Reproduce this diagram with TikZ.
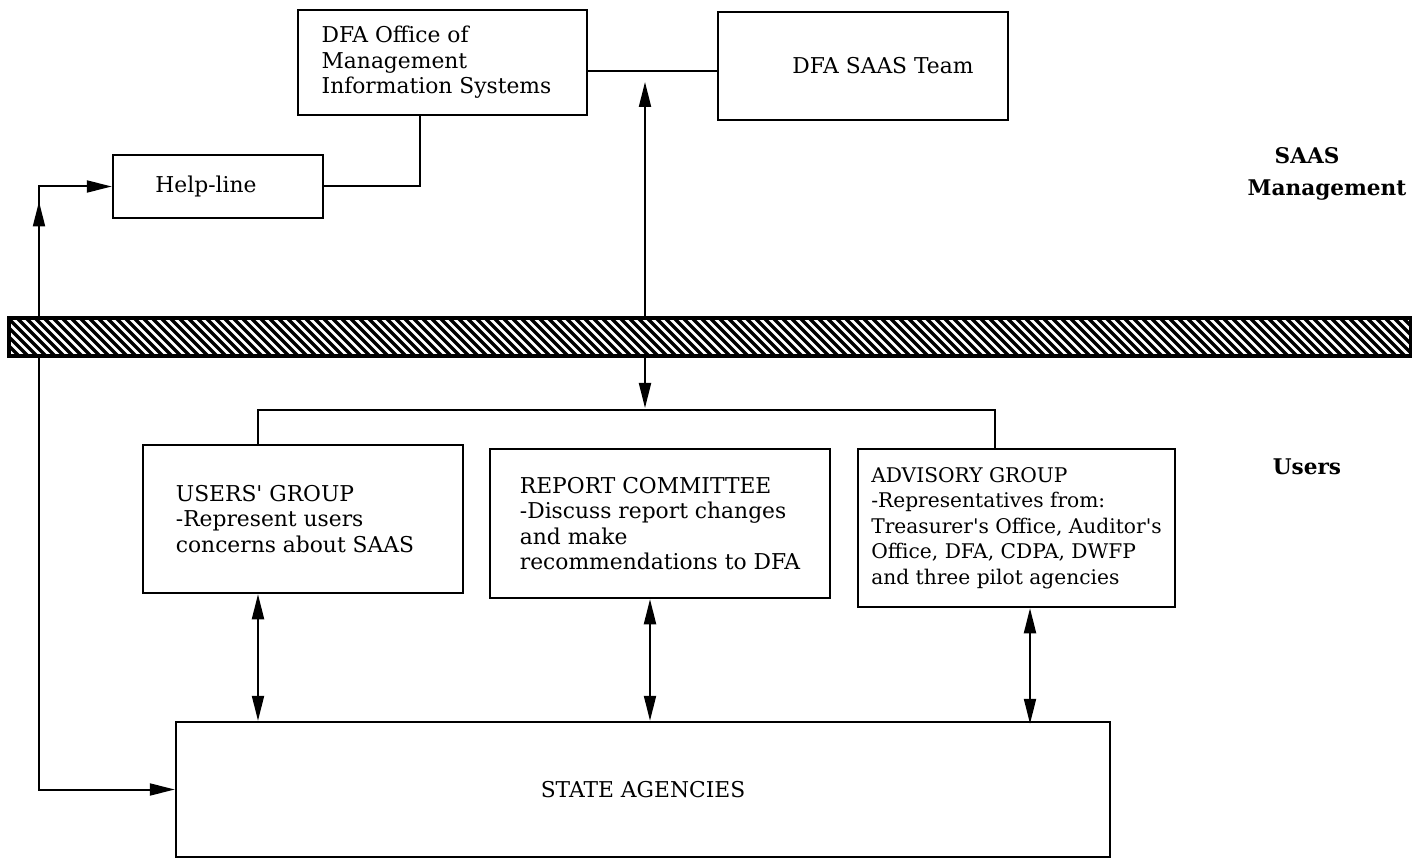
\documentclass[tikz,border=0pt]{standalone}
\usepackage{fontspec}
\setmainfont{DejaVu Serif}
\usetikzlibrary{arrows.meta,calc}
\begin{document}
\begin{tikzpicture}[x=0.5pt,y=-0.5pt,
  box/.style={draw,line width=1.25pt,rectangle,inner sep=0pt,align=left,
    font=\fontsize{10.9}{12.7}\selectfont},
  link/.style={line width=1pt},
  tipend/.style={-{Triangle[length=12.5pt,width=6pt]}},
  tipboth/.style={{Triangle[length=12.5pt,width=6pt]}-{Triangle[length=12.5pt,width=6pt]}},
  zone/.style={font=\fontsize{10.8}{16}\selectfont\bfseries,align=center}]
\useasboundingbox (0,0) rectangle (1412,860);

% management boxes
\node[box,minimum width=144.5pt,minimum height=52.5pt] (mis) at (442.5,62.5)
  {DFA Office of\\Management\\Information Systems\hspace*{6pt}};
\node[box,minimum width=145pt,minimum height=54pt] (team) at (863,66)
  {\hspace*{20pt}DFA SAAS Team};
\node[box,minimum width=105pt,minimum height=31.5pt] (help) at (218,186.5)
  {Help-line\hspace*{12pt}};

% user boxes
\node[box,minimum width=160pt,minimum height=74pt] (users) at (303,519)
  {USERS\textquotesingle{} GROUP\\-Represent users\\concerns about SAAS\hspace*{8pt}};
\node[box,minimum width=170pt,minimum height=74.5pt] (report) at (660,523.5)
  {REPORT COMMITTEE\\-Discuss report changes\\and make\\recommendations to DFA};
\node[box,minimum width=158.5pt,minimum height=79pt,
      font=\fontsize{10.1}{12.7}\selectfont] (advisory) at (1016.5,528)
  {ADVISORY GROUP\\-Representatives from:\\Treasurer\textquotesingle{}s Office, Auditor\textquotesingle{}s\\Office, DFA, CDPA, DWFP\\and three pilot agencies\hspace*{4pt}};
\node[box,minimum width=467pt,minimum height=67.5pt] (state) at (643,789.5)
  {STATE AGENCIES};

% zone labels
\node[zone] (lblmgmt) at (1327,174) {SAAS\hspace*{20pt}\\Management};
\node[zone] (lblusers) at (1307,467) {Users};

% management links
\draw[link] (mis.east|-0,71) -- (team.west|-0,71);
\draw[link] (help.east) -| (mis.south-|420,0);

% help-line / state agencies loop
\coordinate (cornerhi) at (39,0|-help.west);
\coordinate (cornerlo) at (39,0|-state.west);
\draw[link,tipend] (cornerlo) -- ($(cornerhi)+(0,15)$);
\draw[link,tipend] ($(cornerhi)+(0,15)$) -- (cornerhi) -- (help.west);
\draw[link,tipend] (cornerhi) -- (cornerlo) -- (state.west);

% team link down to the user committees
\coordinate (teamlink) at (645,82);
\coordinate (usertop) at (645,408);
\draw[link,tipboth] (teamlink) -- (usertop);
\draw[link] (users.north-|258,0) |- (995,410) -- (advisory.north-|995,0);

% committees to state agencies
\draw[link,tipboth] (users.south-|258,0) -- (state.north-|258,0);
\draw[link,tipboth] (report.south-|650,0) -- (state.north-|650,0);
\draw[link,tipboth] (advisory.south-|1030,0) -- ($(state.north-|1030,0)+(0,3)$);

% hatched divider
\node[draw,line width=1.3pt,inner sep=0pt,minimum width=700pt,minimum height=18pt,fill=white] (bar) at (710,337) {};
\begin{scope}
  \clip (bar.south west) rectangle (bar.north east);
  \foreach \k in {-40,-31,...,1420}
    \draw[line width=1.7pt] (\k,315) -- (\k+44,359);
\end{scope}
\draw[line width=1.4pt] (bar.south west) rectangle (bar.north east);
\end{tikzpicture}
\end{document}
